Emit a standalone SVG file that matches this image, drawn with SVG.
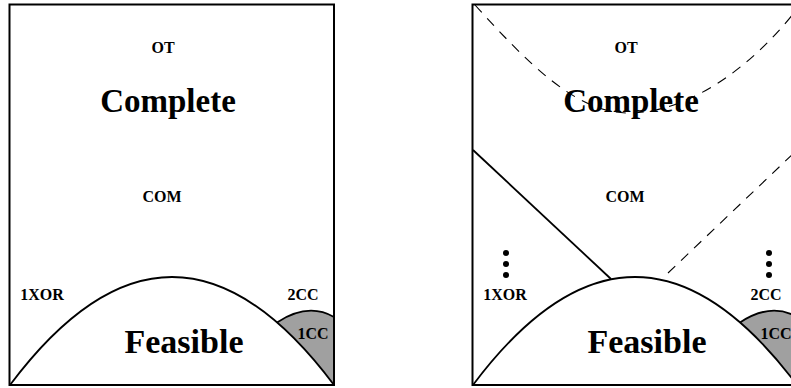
<svg xmlns="http://www.w3.org/2000/svg" width="791" height="388" viewBox="0 0 791 388">
<defs>
<style>
.frame{fill:none;stroke:#000;stroke-width:2}
.curve{fill:none;stroke:#000;stroke-width:1.8}
.cap{fill:#a0a0a0;stroke:none}
.dash{fill:none;stroke:#000;stroke-width:1.1;stroke-dasharray:10 8}
.lbl{font-family:"Liberation Serif","Times New Roman",serif;font-weight:bold;fill:#000;text-anchor:middle}
.s{font-size:16px}
.b{font-size:33px}
.f{font-size:34px}
</style>
<g id="panel">
<path class="cap" d="M 277 322.4 Q 308 302 334 317 L 334 385 Q 305.5 347 277 322.4 Z"/>
<path class="curve" d="M 277 322.4 Q 308 302 334 317"/>
<path class="curve" d="M 10 385 Q 172 169 334 385"/>
<rect class="frame" x="9.5" y="4.5" width="324.5" height="380.5"/>
<text class="lbl s" x="163" y="53">OT</text>
<text class="lbl b" x="168" y="112">Complete</text>
<text class="lbl s" x="162" y="202">COM</text>
<text class="lbl s" x="42" y="300">1XOR</text>
<text class="lbl s" x="303" y="300">2CC</text>
<text class="lbl s" x="313" y="339">1CC</text>
<text class="lbl f" x="184" y="353">Feasible</text>
</g>
</defs>
<g id="left-diagram">
<use href="#panel"/>
</g>
<g id="right-diagram">
<use href="#panel" transform="translate(463,0)"/>
<g id="connectors">
<path class="dash" d="M 475 5 C 525 60, 575 113, 628 113 C 690 113, 755 65, 800 5"/>
<path class="dash" d="M 668 273 L 797 150"/>
<path class="curve" d="M 473 150 L 611 279"/>
</g>
<g id="dots-left">
<circle cx="506" cy="253" r="3"/>
<circle cx="506" cy="264" r="3"/>
<circle cx="506" cy="275" r="3"/>
</g>
<g id="dots-right">
<circle cx="769" cy="253" r="3"/>
<circle cx="769" cy="264" r="3"/>
<circle cx="769" cy="275" r="3"/>
</g>
</g>
</svg>
